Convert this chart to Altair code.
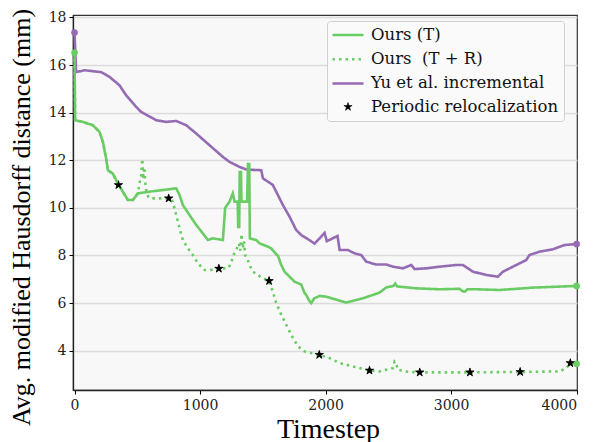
import altair as alt
import pandas as pd

GREEN = "#6ACC64"
PURPLE = "#956CB4"
S_T = "Ours (T)"
S_TR = "Ours\u00a0 (T + R)"
S_YU = "Yu et al. incremental"
S_RELOC = "Periodic relocalization"

yu_x = [0, 13, 80, 212, 279, 358, 411, 491, 531, 651, 730, 810, 890, 970, 1076, 1182, 1235, 1315,
        1368, 1488, 1501, 1580, 1620, 1660, 1713, 1766, 1806, 1870, 1912, 1935, 1992, 2010, 2050,
        2095, 2112, 2178, 2231, 2284, 2324, 2404, 2484, 2536, 2616, 2683, 2709, 2802, 2908, 3041,
        3094, 3174, 3280, 3373, 3413, 3493, 3599, 3625, 3705, 3811, 3904, 4000]
yu_y = [17.36, 15.70, 15.78, 15.70, 15.50, 15.15, 14.73, 14.24, 14.03, 13.68, 13.61, 13.65, 13.47,
        13.12, 12.63, 12.14, 11.93, 11.72, 11.61, 11.58, 11.24, 10.96, 10.54, 10.12, 9.63, 9.07,
        8.86, 8.65, 8.50, 8.62, 8.95, 8.60, 8.70, 8.82, 8.23, 8.23, 8.09, 8.02, 7.74, 7.62, 7.62,
        7.53, 7.46, 7.60, 7.43, 7.46, 7.53, 7.60, 7.60, 7.32, 7.18, 7.11, 7.32, 7.53, 7.81, 8.02,
        8.16, 8.26, 8.44, 8.48]

t_x = [0, 5, 66, 146, 199, 226, 252, 266, 305, 345, 385, 425, 465, 505, 598, 704, 810, 837, 863,
       916, 970, 1022, 1062, 1102, 1182, 1200, 1235, 1261, 1275, 1300, 1304, 1312, 1316, 1326,
       1330, 1375, 1382, 1392, 1397, 1448, 1474, 1541, 1567, 1607, 1620, 1647, 1673, 1753, 1806,
       1833, 1846, 1870, 1886, 1910, 1952, 2005, 2165, 2297, 2430, 2484, 2540, 2555, 2570, 2722,
       2908, 3068, 3090, 3110, 3130, 3201, 3386, 3652, 4000]
t_y = [16.52, 13.68, 13.61, 13.47, 13.19, 12.77, 12.07, 11.58, 11.44, 11.03, 10.68, 10.33, 10.33,
       10.61, 10.68, 10.75, 10.82, 10.54, 10.12, 9.70, 9.28, 8.93, 8.65, 8.72, 8.65, 10.00, 10.26,
       10.61, 10.26, 10.26, 9.20, 9.20, 11.50, 11.50, 10.26, 10.26, 11.84, 11.84, 8.72, 8.65, 8.51,
       8.37, 8.30, 8.05, 8.00, 7.60, 7.32, 6.90, 6.78, 6.42, 6.34, 6.10, 6.00, 6.20, 6.30, 6.27,
       6.02, 6.20, 6.44, 6.66, 6.72, 6.82, 6.70, 6.62, 6.58, 6.60, 6.50, 6.48, 6.58, 6.58, 6.55,
       6.65, 6.72]

tr_x = [0, 5, 66, 146, 199, 226, 252, 266, 305, 345, 385, 425, 465, 505, 520, 532, 540, 548, 556,
        565, 575, 590, 600, 700, 750, 783, 810, 837, 863, 903, 943, 983, 1036, 1100, 1150, 1222,
        1248, 1261, 1288, 1310, 1320, 1330, 1340, 1350, 1360, 1375, 1394, 1421, 1501, 1548, 1580,
        1607, 1647, 1687, 1726, 1780, 1833, 1947, 2032, 2112, 2218, 2350, 2430, 2536, 2550, 2562,
        2575, 2650, 2750, 3150, 3550, 3865, 3918, 3950, 4000]
tr_y = [16.52, 13.68, 13.61, 13.47, 13.19, 12.77, 12.07, 11.58, 11.44, 11.03, 10.68, 10.33, 10.33,
        10.61, 11.10, 11.40, 12.05, 11.20, 11.70, 11.00, 10.60, 10.45, 10.40, 10.40, 10.40, 10.26,
        9.70, 9.14, 8.65, 8.30, 8.02, 7.67, 7.39, 7.40, 7.46, 7.46, 7.67, 7.95, 8.23, 8.50, 8.20,
        8.90, 8.30, 8.60, 8.00, 7.90, 7.60, 7.32, 7.04, 6.94, 6.48, 6.00, 5.51, 5.09, 4.67, 4.18,
        3.97, 3.83, 3.69, 3.48, 3.34, 3.17, 3.13, 3.27, 3.55, 3.50, 3.20, 3.12, 3.09, 3.09, 3.11,
        3.13, 3.27, 3.48, 3.45]

reloc_x = [350, 750, 1150, 1550, 1950, 2350, 2750, 3150, 3550, 3950]
reloc_y = [10.96, 10.40, 7.45, 6.93, 3.83, 3.17, 3.09, 3.09, 3.11, 3.48]

end_series = [S_YU, S_YU, S_T, S_T, S_TR]
end_x = [0, 4000, 0, 4000, 4000]
end_y = [17.36, 8.48, 16.52, 6.72, 3.45]

SERIES = [S_T, S_TR, S_YU, S_RELOC]
COLORS = [GREEN, GREEN, PURPLE, "black"]

rows = []
for name, xs, ys in [(S_YU, yu_x, yu_y), (S_T, t_x, t_y), (S_TR, tr_x, tr_y)]:
    for i, (a, b) in enumerate(zip(xs, ys)):
        rows.append({"series": name, "t": a, "d": b, "i": i})
lines_df = pd.DataFrame(rows)
reloc_df = pd.DataFrame({"series": [S_RELOC] * len(reloc_x), "t": reloc_x, "d": reloc_y})
end_df = pd.DataFrame({"series": end_series, "t": end_x, "d": end_y})

STAR = ("M0,-1L0.2245,-0.309L0.951,-0.309L0.363,0.118L0.588,0.809L0,0.382"
        "L-0.588,0.809L-0.363,0.118L-0.951,-0.309L-0.2245,-0.309Z")
LINE_SYM = "M-2,0H2"

xscale = alt.Scale(domain=[-12, 4003], nice=False, zero=False)
yscale = alt.Scale(domain=[2.35, 18.1], nice=False, zero=False)

xaxis = alt.Axis(values=[0, 1000, 2000, 3000, 4000], format="d", grid=False,
                 title="Timestep", titleFont="Liberation Serif", titleFontSize=28,
                 titleFontWeight="normal", titleColor="black", titleX=255, titleY=47,
                 titleBaseline="alphabetic", titleAlign="center",
                 labelFont="DejaVu Serif", labelFontSize=14, labelColor="#222",
                 labelPadding=4, tickSize=4, tickColor="black", domainColor="#222",
                 domainWidth=1.3)
yaxis = alt.Axis(values=[4, 6, 8, 10, 12, 14, 16, 18], format="d", grid=True,
                 gridColor="#dcdcdc", gridWidth=1.3,
                 title="Avg. modified Hausdorff distance (mm)", titleFont="Liberation Serif",
                 titleFontSize=26, titleFontWeight="normal", titleColor="black",
                 titleX=-52, titleY=202, titleAlign="center", titleBaseline="middle",
                 titleAngle=270,
                 labelFont="DejaVu Serif", labelFontSize=14, labelColor="#222",
                 labelPadding=3, tickSize=4, tickColor="black", domainColor="#222",
                 domainWidth=1.3)

legend = alt.Legend(
    orient="none", legendX=254, legendY=6, title=None,
    labelFont="DejaVu Serif", labelFontSize=16.5, labelColor="#111", labelLimit=400,
    fillColor="#fafafa", strokeColor="#d0d0d0", cornerRadius=3, padding=5,
    rowPadding=6.2, labelOffset=14, symbolOffset=7,
)

color_scale = alt.Scale(domain=SERIES, range=COLORS)
dash_scale = alt.Scale(domain=SERIES, range=[[1, 0], [2.5, 4], [1, 0], [1, 0]])
shape_scale = alt.Scale(domain=SERIES, range=[LINE_SYM, LINE_SYM, LINE_SYM, STAR])
size_scale = alt.Scale(type="ordinal", domain=SERIES, range=[240, 240, 240, 75])
sw_scale = alt.Scale(type="ordinal", domain=SERIES, range=[2.5, 2.5, 2.5, 0.6])

X = alt.X("t:Q", scale=xscale, axis=xaxis)
Y = alt.Y("d:Q", scale=yscale, axis=yaxis)

# legend-bearing star layer (first, so its legend settings win)
stars_leg = alt.Chart(reloc_df).mark_point(filled=False, fill="black", opacity=1).encode(
    x=X, y=Y,
    color=alt.Color("series:N", scale=color_scale, legend=legend),
    shape=alt.Shape("series:N", scale=shape_scale, legend=legend),
    size=alt.Size("series:N", scale=size_scale, legend=legend),
    strokeDash=alt.StrokeDash("series:N", scale=dash_scale, legend=legend),
    strokeWidth=alt.StrokeWidth("series:N", scale=sw_scale, legend=legend),
)

lines = alt.Chart(lines_df).mark_line(strokeWidth=2.6, strokeCap="butt").encode(
    x=X, y=Y,
    color=alt.Color("series:N", scale=color_scale, legend=None),
    strokeDash=alt.StrokeDash("series:N", scale=dash_scale, legend=None),
    order=alt.Order("i:Q"),
    detail="series:N",
)

ends = alt.Chart(end_df).mark_point(filled=True, size=45, opacity=1).encode(
    x=X, y=Y,
    color=alt.Color("series:N", scale=color_scale, legend=None),
)

stars_top = alt.Chart(reloc_df).mark_point(shape=STAR, filled=True, size=95, color="black",
                                           strokeWidth=0.6, opacity=1).encode(x=X, y=Y)

chart = alt.layer(stars_leg, lines, ends, stars_top).properties(
    width=504, height=375,
    autosize=alt.AutoSizeParams(type="none"),
    padding={"left": 65, "top": 7, "right": 8, "bottom": 52},
    background="white",
).configure_view(
    fill="#f8f8f8", stroke="#333", strokeWidth=1.2,
)

chart.save("out.html", embed_options={"renderer": "svg", "actions": False})
